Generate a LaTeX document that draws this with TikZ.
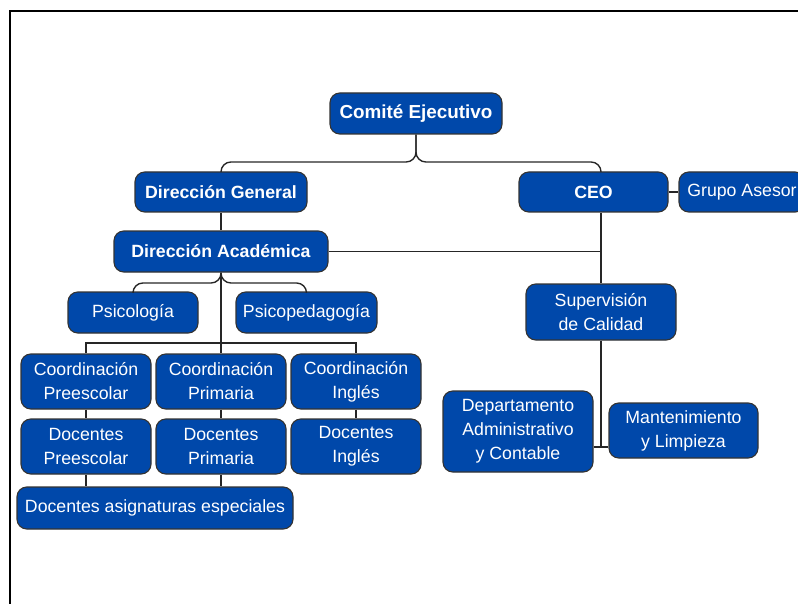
\documentclass[tikz,border=0pt]{standalone}
\usepackage{fontspec}
\setmainfont{Liberation Sans}
\usetikzlibrary{positioning,calc}
\definecolor{orgblue}{RGB}{0,72,170}

\begin{document}
\begin{tikzpicture}[
    x=0.025cm, y=-0.025cm,
    orgbox/.style={rectangle, rounded corners=7pt, draw=black!80, line width=0.8pt, fill=orgblue, text=white, align=center, inner sep=0pt, font=\fontsize{12.6}{17}\selectfont},
    headbox/.style={orgbox, font=\fontsize{12.6}{17}\selectfont\bfseries},
    boxsize/.style 2 args={minimum width=#1*0.025cm, minimum height=#2*0.025cm},
    link/.style={draw=black!85, line width=1pt}
]
    \useasboundingbox (0,0) rectangle (798,604);
    \draw[line width=1.4pt] (10,620) -- (10,11) -- (820,11);

    \node[headbox, boxsize={172}{41}, font=\fontsize{13.4}{17}\selectfont\bfseries] (comite) at (416,113.5) {Comité Ejecutivo};
    \node[headbox, boxsize={172}{40}] (dirgen) at (221,192) {Dirección General};
    \node[headbox, boxsize={149}{40}] (ceo) at (593.5,192) {CEO};
    \node[orgbox, boxsize={126}{40}] (grupo) at (742,192) {Grupo Asesor};
    \node[headbox, boxsize={214}{41}] (dirac) at (221,251.5) {Dirección Académica};
    \node[orgbox, boxsize={130}{41}] (psico) at (133,312.5) {Psicología};
    \node[orgbox, boxsize={141}{41}] (psiped) at (306.5,312.5) {Psicopedagogía};
    \node[orgbox, boxsize={150}{56}] (sup) at (601,312) {Supervisión\\de Calidad};

    \node[orgbox, boxsize={130}{55}] (copre) at (86,381.5) {Coordinación\\Preescolar};
    \node[orgbox, boxsize={130}{55}] (coprim) at (221,381.5) {Coordinación\\Primaria};
    \node[orgbox, boxsize={130}{55}] (coing) at (356,381.5) {Coordinación\\Inglés};
    \node[orgbox, boxsize={130}{55}] (dopre) at (86,446.5) {Docentes\\Preescolar};
    \node[orgbox, boxsize={130}{55}] (doprim) at (221,446.5) {Docentes\\Primaria};
    \node[orgbox, boxsize={130}{55}] (doing) at (356,446.5) {Docentes\\Inglés};
    \node[orgbox, boxsize={276}{42}] (asig) at (155,508) {Docentes asignaturas especiales};

    \node[orgbox, boxsize={150}{81}] (depto) at (518,431.5) {Departamento\\Administrativo\\y Contable};
    \node[orgbox, boxsize={149}{55}] (mant) at (683.5,430.5) {Mantenimiento\\y Limpieza};

    \coordinate (j1) at (416,162);
    \coordinate (j2) at (221,283);
    \coordinate (j3) at (221,343);
    \coordinate (j4) at (601,447);

    \draw[link, rounded corners=7pt] (dirgen.north) |- (j1) -- (comite.south);
    \draw[link, rounded corners=7pt] (ceo.north -| sup.north) |- (j1) -- (comite.south);
    \draw[link] (dirgen) -- (dirac);
    \draw[link] (ceo.south -| sup.north) -- (sup.north);
    \draw[link] (dirac.east) -- (dirac.east -| sup.north);
    \draw[link] (ceo) -- (grupo);

    \draw[link, rounded corners=7pt] (psico.north) |- (j2) -- (dirac.south);
    \draw[link, rounded corners=7pt] (psiped.north) |- (j2) -- (dirac.south);
    \draw[link] (dirac.south) -- (coprim.north);
    \draw[link] (copre.north) |- (j3) -| (coing.north);
    \foreach \a/\b in {copre/dopre, coprim/doprim, coing/doing} \draw[link] (\a) -- (\b);
    \draw[link] (dopre.south) -- (dopre.south |- asig.north);
    \draw[link] (doprim.south) -- (doprim.south |- asig.north);

    \draw[link] (sup.south) -- (j4);
    \draw[link] (depto.east |- j4) -- (mant.west |- j4);
\end{tikzpicture}
\end{document}
